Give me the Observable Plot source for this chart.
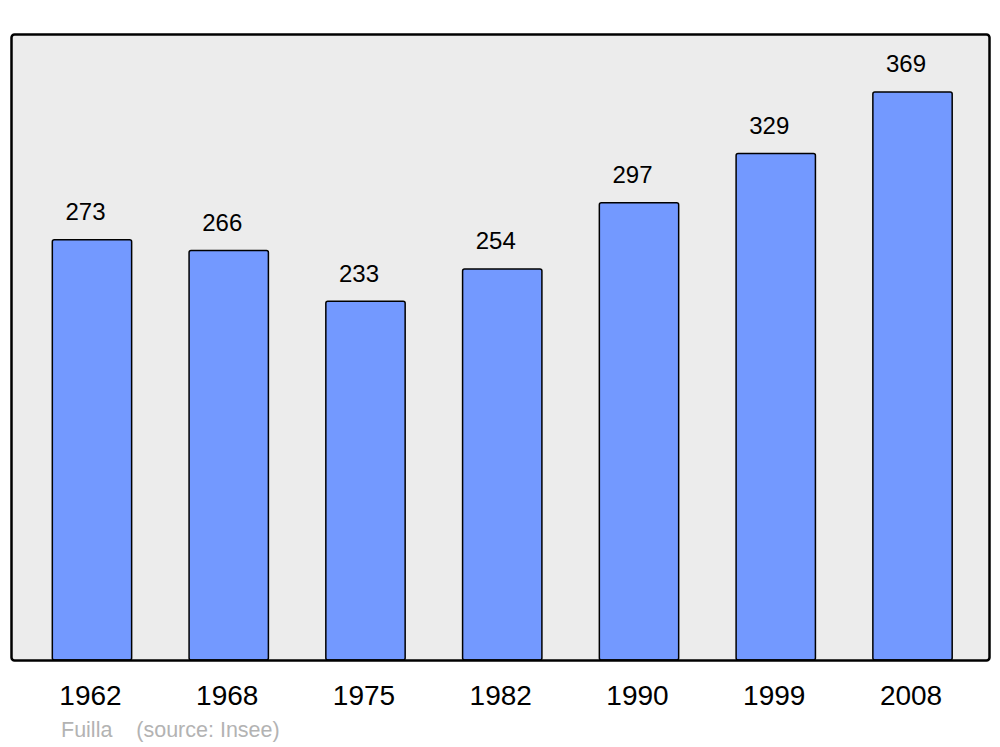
<!DOCTYPE html>
<html>
<head>
<meta charset="utf-8">
<script src="https://cdn.jsdelivr.net/npm/d3@7"></script>
<script src="https://cdn.jsdelivr.net/npm/@observablehq/plot@0.6"></script>
<style>
  html, body { margin: 0; padding: 0; background: #fff; }
  #wrap { position: relative; width: 1000px; height: 747px; font-family: "Liberation Sans", Arial, sans-serif; }
  #caption { position: absolute; left: 61px; top: 718.5px; font-size: 21.5px; line-height: 22px; color: #b3b3b3; white-space: pre; }
</style>
</head>
<body>
<div id="wrap"><div id="chart"></div><div id="caption">Fuilla    (source: Insee)</div></div>
<script>
const years = ["1962", "1968", "1975", "1982", "1990", "1999", "2008"];
const population = [273, 266, 233, 254, 297, 329, 369];
const data = years.map((year, i) => ({year, pop: population[i]}));

const chart = Plot.plot({
  width: 1000,
  height: 715,
  marginTop: 34,
  marginBottom: 55,
  marginLeft: 11,
  marginRight: 11,
  style: {fontFamily: "'Liberation Sans', Arial, sans-serif", background: "transparent", overflow: "visible"},
  x: {type: "band", domain: years, range: [23.6, 980.9], paddingInner: 0.42, paddingOuter: 0.21, round: false, label: null},
  y: {domain: [0, 406.7], axis: null},
  marks: [
    Plot.frame({fill: "#ececec", stroke: "none", rx: 3}),
    Plot.barY(data, {x: "year", y: "pop", fill: "#7399ff", stroke: "black", strokeWidth: 1.5, rx: 2}),
    Plot.frame({stroke: "black", strokeWidth: 2.5, rx: 3}),
    Plot.text(data, {x: "year", y: "pop", text: d => String(d.pop), dy: -28, dx: -7, fontSize: 24, fill: "black"}),
    Plot.axisX({tickSize: 0, tickPadding: 25, fontSize: 28, dx: -2, color: "black", label: null})
  ]
});
document.getElementById("chart").appendChild(chart);
</script>
</body>
</html>
